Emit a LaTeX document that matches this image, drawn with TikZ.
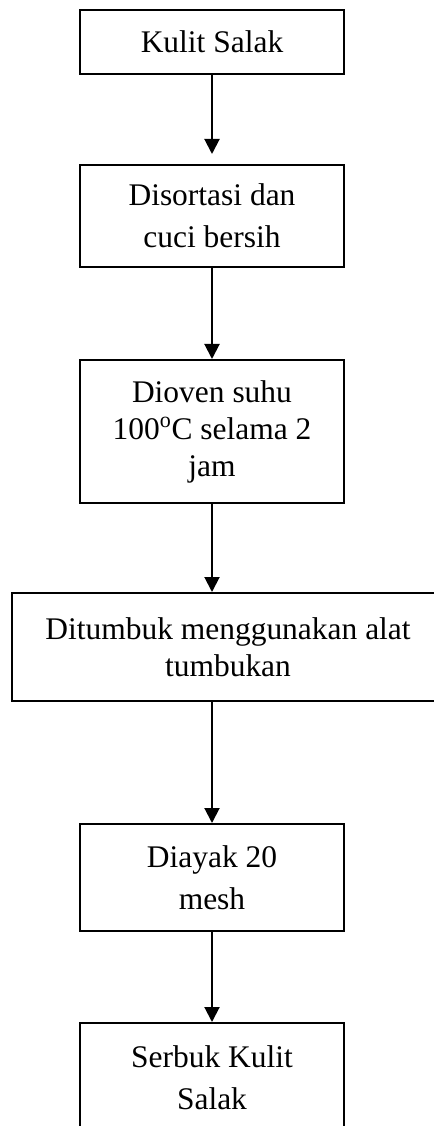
\documentclass[tikz,border=0pt]{standalone}
\usepackage{fontspec}
\setmainfont{Liberation Serif}
\usetikzlibrary{arrows.meta}

% sizes are given in pt; positions use 0.75pt units
\tikzset{
  stepbox/.style={draw, line width=1.5pt, inner sep=0pt, align=center,
    minimum width=198pt, font=\fontsize{23.6pt}{31.5pt}\selectfont},
  tightlines/.style={font=\fontsize{23.6pt}{27.75pt}\selectfont},
  flow/.style={line width=1.5pt, -{Triangle[length=11.25pt, width=11.25pt]}}
}

\begin{document}
\begin{tikzpicture}[x=0.75pt, y=-0.75pt]
  \useasboundingbox (0,0) rectangle (434,1126);

  % process steps, top to bottom
  \node[stepbox, minimum height=48pt] (kulit) at (212,42) {Kulit Salak};
  \node[stepbox, minimum height=76.5pt] (sortasi) at (212,216) {Disortasi dan\\cuci bersih};
  \node[stepbox, tightlines, minimum height=107.25pt] (oven) at (212,431.5)
    {Dioven suhu\\100\textsuperscript{o}C selama 2\\jam};
  \node[stepbox, tightlines, minimum height=81pt, minimum width=324pt] (tumbuk) at (228,647)
    {Ditumbuk menggunakan alat\\tumbukan};
  \node[stepbox, minimum height=80.25pt] (ayak) at (212,877.5) {Diayak 20\\mesh};
  \node[stepbox, minimum height=82.5pt] (serbuk) at (212,1078) {Serbuk Kulit\\Salak};

  % connectors
  \draw[flow, shorten >=7.5pt] (kulit) -- (sortasi);
  \draw[flow] (sortasi) -- (oven);
  \draw[flow] (oven) -- (oven |- tumbuk.north);
  \draw[flow] (ayak |- tumbuk.south) -- (ayak);
  \draw[flow] (ayak) -- (serbuk);
\end{tikzpicture}
\end{document}
